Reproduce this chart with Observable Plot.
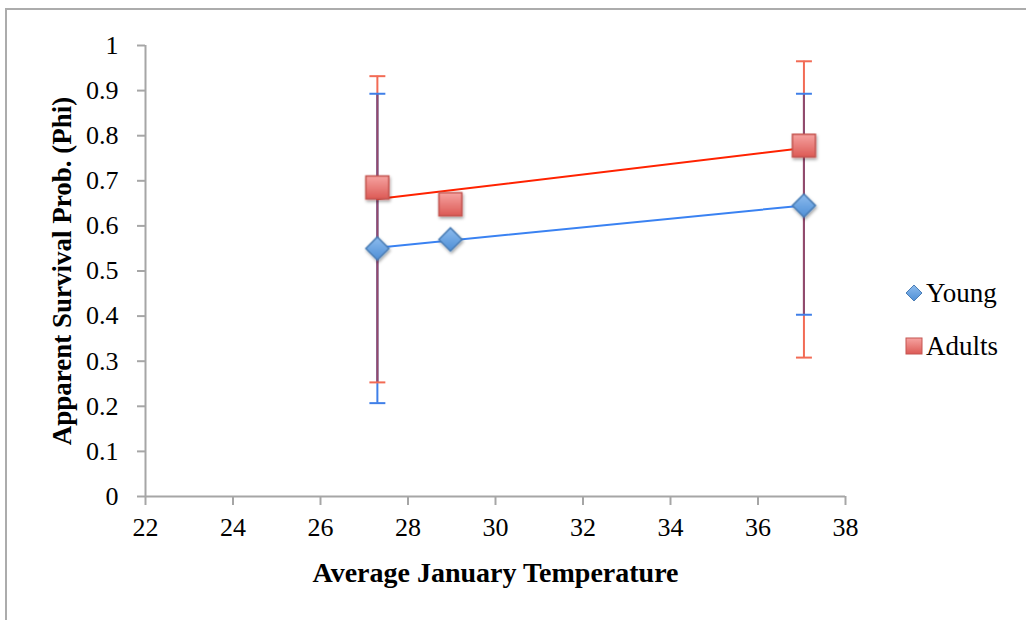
<!DOCTYPE html>
<html>
<head>
<meta charset="utf-8">
<script src="https://cdn.jsdelivr.net/npm/d3@7"></script>
<script src="https://cdn.jsdelivr.net/npm/@observablehq/plot@0.6"></script>
<style>
  html, body { margin: 0; padding: 0; background: #fff; }
  #wrap { position: relative; width: 1026px; height: 620px; overflow: hidden; font-family: "Liberation Serif", "DejaVu Serif", serif; }
  #border { position: absolute; left: 5px; top: 8px; width: 1100px; height: 700px; border-top: 2px solid #acacac; border-left: 2px solid #acacac; box-sizing: border-box; }
  #legend { position: absolute; left: 905px; top: 278px; font-size: 27px; color: #000; }
  #legend .item { display: flex; align-items: center; height: 30px; margin-bottom: 23px; }
  #legend svg { margin-right: 3px; }
  #chart { position: absolute; left: 0; top: 0; }
</style>
</head>
<body>
<div id="wrap">
  <div id="border"></div>
  <div id="chart"></div>
  <div id="legend"></div>
</div>
<script>
// ---- data ----
const temperature = [27.3, 28.97, 37.05];
const youngPhi = [0.55, 0.57, 0.645];
const youngLow = [0.207, 0.57, 0.403];
const youngHigh = [0.893, 0.57, 0.893];
const adultPhi = [0.685, 0.648, 0.778];
const adultLow = [0.253, 0.648, 0.308];
const adultHigh = [0.932, 0.648, 0.965];
const errorBarIndex = [0, 2];
const seriesNames = ["Young", "Adults"];
const xTicks = [22, 24, 26, 28, 30, 32, 34, 36, 38];
const yTicks = [0, 0.1, 0.2, 0.3, 0.4, 0.5, 0.6, 0.7, 0.8, 0.9, 1];

const young = temperature.map((t, i) => ({t, phi: youngPhi[i], lo: youngLow[i], hi: youngHigh[i]}));
const adults = temperature.map((t, i) => ({t, phi: adultPhi[i], lo: adultLow[i], hi: adultHigh[i]}));
const youngErr = errorBarIndex.map(i => young[i]);
const adultErr = errorBarIndex.map(i => adults[i]);
const overlap = errorBarIndex.map(i => ({t: temperature[i], lo: Math.max(youngLow[i], adultLow[i]), hi: Math.min(youngHigh[i], adultHigh[i])}));

const capSymbol = {
  draw(ctx, size) { const w = Math.sqrt(size); ctx.moveTo(-w / 2, 0); ctx.lineTo(w / 2, 0); }
};

const defs = () => {
  const d = d3.create("svg:defs");
  const gr = d.append("linearGradient").attr("id", "gRed").attr("x1", 0).attr("y1", 0).attr("x2", 0).attr("y2", 1);
  gr.append("stop").attr("offset", "0%").attr("stop-color", "#f6a3a1");
  gr.append("stop").attr("offset", "100%").attr("stop-color", "#dc5a55");
  const gb = d.append("linearGradient").attr("id", "gBlue").attr("x1", 0).attr("y1", 0).attr("x2", 0).attr("y2", 1);
  gb.append("stop").attr("offset", "0%").attr("stop-color", "#8dbcee");
  gb.append("stop").attr("offset", "100%").attr("stop-color", "#4f8fd6");
  const f = d.append("filter").attr("id", "shadow").attr("x", "-50%").attr("y", "-50%").attr("width", "200%").attr("height", "200%");
  f.append("feDropShadow").attr("dx", 1).attr("dy", 2).attr("stdDeviation", 1.8).attr("flood-color", "#000").attr("flood-opacity", 0.35);
  return d.node();
};

const axisColor = "#a6a6a6";
const serif = "Liberation Serif, DejaVu Serif, serif";

const chart = Plot.plot({
  width: 1026,
  height: 620,
  marginLeft: 145,
  marginRight: 181,
  marginTop: 45,
  marginBottom: 124,
  style: { fontFamily: serif, fontSize: "26px", color: "#000", background: "transparent" },
  x: { domain: [22, 38], ticks: xTicks },
  y: { domain: [0, 1], ticks: yTicks },
  marks: [
    defs,
    Plot.ruleX([22], { stroke: axisColor, strokeWidth: 2 }),
    Plot.ruleY([0], { stroke: axisColor, strokeWidth: 2 }),
    Plot.axisX({ ticks: xTicks, tickSize: 9, tickPadding: 12, stroke: axisColor, strokeWidth: 2, fontSize: 26, fill: "#000", label: null, tickFormat: d => String(d) }),
    Plot.axisY({ ticks: yTicks, tickSize: 8, tickPadding: 19, stroke: axisColor, strokeWidth: 2, fontSize: 26, fill: "#000", label: null, tickFormat: d => String(+d.toFixed(1)) }),
    // error bars
    Plot.ruleX(adultErr, { x: "t", y1: "lo", y2: "hi", stroke: "#f26b55", strokeWidth: 2 }),
    Plot.ruleX(youngErr, { x: "t", y1: "lo", y2: "hi", stroke: "#3f7fe8", strokeWidth: 2 }),
    Plot.ruleX(overlap, { x: "t", y1: "lo", y2: "hi", stroke: "#944a6a", strokeWidth: 2 }),
    Plot.dot(adultErr.flatMap(d => [{t: d.t, v: d.lo}, {t: d.t, v: d.hi}]), { x: "t", y: "v", symbol: capSymbol, r: 9, stroke: "#f26b55", strokeWidth: 2, fill: "none" }),
    Plot.dot(youngErr.flatMap(d => [{t: d.t, v: d.lo}, {t: d.t, v: d.hi}]), { x: "t", y: "v", symbol: capSymbol, r: 9, stroke: "#3f7fe8", strokeWidth: 2, fill: "none" }),
    // trend lines
    Plot.linearRegressionY(adults, { x: "t", y: "phi", stroke: "#ff2200", strokeWidth: 2, ci: 0 }),
    Plot.linearRegressionY(young, { x: "t", y: "phi", stroke: "#3a82f2", strokeWidth: 2, ci: 0 }),
    // markers
    Plot.dot(young, { x: "t", y: "phi", symbol: "diamond2", r: 10.4, fill: "url(#gBlue)", stroke: "#4a7db5", strokeWidth: 1.5 }),
    Plot.dot(adults, { x: "t", y: "phi", symbol: "square2", r: 14.6, fill: "url(#gRed)", stroke: "#c45550", strokeWidth: 1.5 }),
    // axis titles
    Plot.text(["Average January Temperature"], { frameAnchor: "bottom", dy: 85, fontSize: 28, fontWeight: "bold", fill: "#000" }),
    Plot.text(["Apparent Survival Prob. (Phi)"], { frameAnchor: "left", textAnchor: "middle", lineAnchor: "middle", rotate: -90, dx: -83, fontSize: 27, fontWeight: "bold", fill: "#000" })
  ]
});

d3.select(chart).selectAll("g[aria-label='dot']").each(function () {
  const f = this.getAttribute("fill");
  if (f && f.startsWith("url(")) this.setAttribute("filter", "url(#shadow)");
});

document.getElementById("chart").appendChild(chart);

// legend
const legend = document.getElementById("legend");
const icons = [
  `<svg width="18" height="18" viewBox="0 0 18 18"><path d="M9 1 L17 9 L9 17 L1 9 Z" fill="url(#gBlue)" stroke="#4a7db5" stroke-width="1"/></svg>`,
  `<svg width="18" height="18" viewBox="0 0 18 18"><rect x="1" y="1" width="16" height="16" fill="url(#gRed)" stroke="#c45550" stroke-width="1"/></svg>`
];
seriesNames.forEach((name, i) => {
  const div = document.createElement("div");
  div.className = "item";
  div.innerHTML = icons[i] + `<span>${name}</span>`;
  legend.appendChild(div);
});
</script>
</body>
</html>
